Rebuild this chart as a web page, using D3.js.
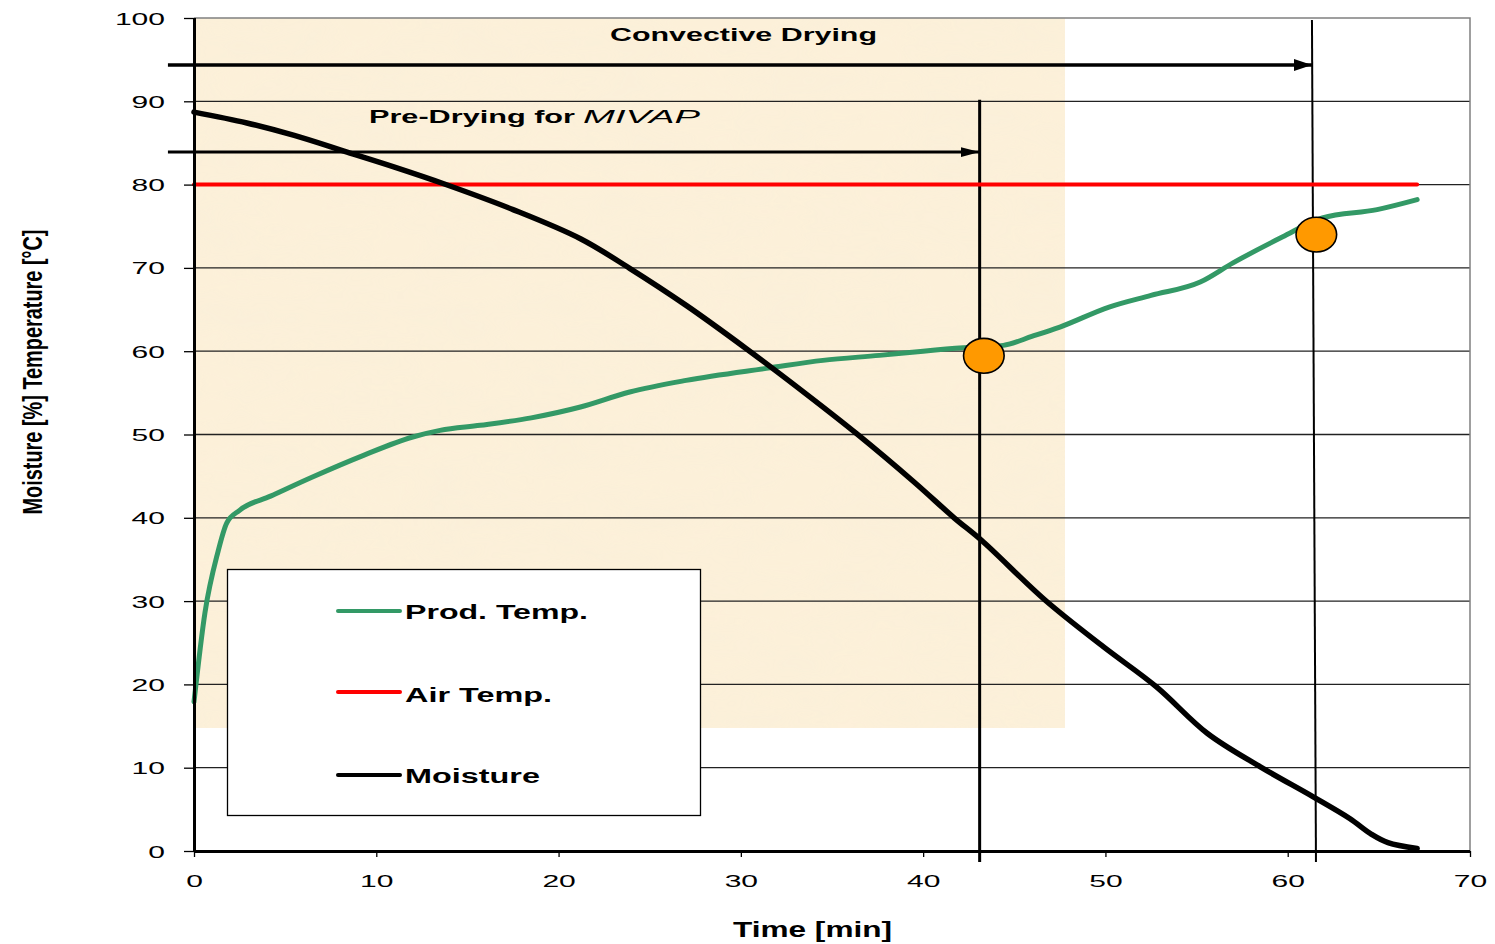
<!DOCTYPE html>
<html><head><meta charset="utf-8">
<script src="https://cdn.jsdelivr.net/npm/d3@7"></script>
<style>body{margin:0;background:#fff} svg{display:block}</style>
</head><body>
<svg id="chart" width="1495" height="944"></svg>
<script>
// ---------- data ----------
const xTickValues = [0, 10, 20, 30, 40, 50, 60, 70];
const yTickValues = [0, 10, 20, 30, 40, 50, 60, 70, 80, 90, 100];

const prodTime = [0, 0.6, 1.3, 1.8, 2.5, 4.2, 6.5, 9.3, 12, 13.5, 15.7, 18.5, 21.2, 23.9, 27, 31.6, 34.5, 37.6, 40, 42.2, 44.4, 46, 47.5, 50.2, 52.5, 55.2, 57, 59.7, 61.9, 64.9, 67.1];
const prodTemp = [17.9, 28.6, 35.8, 39.4, 40.9, 42.6, 44.9, 47.5, 49.7, 50.5, 51.1, 52, 53.3, 55.1, 56.5, 58, 58.9, 59.5, 60, 60.4, 60.7, 61.8, 62.9, 65.3, 66.7, 68.3, 70.6, 73.7, 76, 77, 78.2];

const airTime = [0, 67.1];
const airTemp = [80, 80];

const moistTime = [0, 2.9, 5.5, 8.4, 11, 13.7, 17.5, 21.2, 23.9, 27, 30.3, 33.5, 36.35, 39.5, 41.7, 43.2, 46.7, 49.9, 52.8, 55.6, 58.5, 61.4, 63.4, 64.6, 65.5, 67.1];
const moisture = [88.7, 87.4, 85.9, 83.9, 82.1, 80.1, 77.0, 73.5, 69.95, 65.5, 60.3, 55.0, 50.1, 44.3, 40.0, 37.3, 30.1, 24.5, 19.7, 14.1, 10.1, 6.5, 3.9, 2.0, 1.0, 0.3];

const markerTime = [43.33, 61.57];
const markerValue = [59.45, 74.0];

const seriesNames = ["Prod. Temp.", "Air Temp.", "Moisture"];
const seriesColors = ["#339966", "#ff0000", "#000000"];

const phaseNames = ["Convective Drying", "Pre-Drying for", "MIVAP"];
const phaseEndTime = [61.33, 43.1];      // arrow tips
const phaseArrowValue = [94.36, 83.9];   // arrow heights
const xTitle = "Time [min]";
const yTitle = "Moisture [%]   Temperature [°C]";

// ---------- layout ----------
const svg = d3.select("#chart");
const x = d3.scaleLinear().domain([0, 70]).range([194, 1470]);
const y = d3.scaleLinear().domain([0, 100]).range([851, 18]);

const defs = svg.append("defs");
const filt = defs.append("filter").attr("id", "paper").attr("x", 0).attr("y", 0).attr("width", 1).attr("height", 1);
filt.append("feTurbulence").attr("type", "fractalNoise").attr("baseFrequency", "0.012 0.03").attr("numOctaves", 3).attr("seed", 4).attr("result", "n");
filt.append("feColorMatrix").attr("in", "n").attr("type", "matrix")
  .attr("values", "0 0 0 0 0.93  0 0 0 0 0.86  0 0 0 0 0.70  0 0 0 0.5 -0.12").attr("result", "c");
filt.append("feComposite").attr("in", "c").attr("in2", "SourceGraphic").attr("operator", "in");

["big", "small"].forEach((id, i) => {
  const w = i === 0 ? 18 : 19, h = i === 0 ? 12 : 10;
  defs.append("marker").attr("id", id).attr("markerUnits", "userSpaceOnUse")
    .attr("viewBox", `0 0 ${w} ${h}`).attr("refX", w).attr("refY", h / 2)
    .attr("markerWidth", w).attr("markerHeight", h).attr("orient", "auto")
    .append("path").attr("d", `M0,0L${w},${h / 2}L0,${h}Z`).attr("fill", "#000");
});

// beige background panel
const bg = { t0: 0, t1: 47.78, v0: 14.77, v1: 100 };
svg.append("rect").attr("x", x(bg.t0)).attr("y", y(bg.v1))
  .attr("width", x(bg.t1) - x(bg.t0)).attr("height", y(bg.v0) - y(bg.v1))
  .attr("fill", "#fcf0d9");
svg.append("rect").attr("x", x(bg.t0)).attr("y", y(bg.v1))
  .attr("width", x(bg.t1) - x(bg.t0)).attr("height", y(bg.v0) - y(bg.v1))
  .attr("fill", "#fff").attr("filter", "url(#paper)").attr("opacity", 0.8);

// gridlines
svg.append("g").selectAll("line").data(yTickValues.filter(d => d > 0 && d < 100)).join("line")
  .attr("x1", x(0)).attr("x2", x(70)).attr("y1", d => y(d)).attr("y2", d => y(d))
  .attr("stroke", "#222").attr("stroke-width", 1.3);
// frame top/right
svg.append("path").attr("d", `M${x(0)},${y(100)}H${x(70)}V${y(0)}`)
  .attr("fill", "none").attr("stroke", "#808080").attr("stroke-width", 1.5);

// legend box
const legend = svg.append("g");
legend.append("rect").attr("x", 227.5).attr("y", 569.5).attr("width", 473).attr("height", 246)
  .attr("fill", "#fff").attr("stroke", "#000").attr("stroke-width", 1.3);
const legY = [611, 692, 775];
const legBase = [619, 702, 783];
const legW = [183, 147, 135];
seriesNames.forEach((n, i) => {
  legend.append("line").attr("x1", 338).attr("x2", 400).attr("y1", legY[i]).attr("y2", legY[i])
    .attr("stroke", seriesColors[i]).attr("stroke-width", 4).attr("stroke-linecap", "round");
  legend.append("text").attr("x", 405).attr("y", legBase[i]).text(n)
    .attr("font-family", "Liberation Sans, Arial, sans-serif").attr("font-weight", "bold")
    .attr("font-size", 19.5).attr("textLength", legW[i]).attr("lengthAdjust", "spacingAndGlyphs");
});

// vertical phase lines
const vLines = [
  { t0: 43.1, v0: 90.2, t1: 43.1, v1: -1.32, w: 3 },
  { t0: 61.33, v0: 99.76, t1: 61.55, v1: -1.32, w: 2 }
];
svg.append("g").selectAll("line").data(vLines).join("line")
  .attr("x1", d => x(d.t0)).attr("y1", d => y(d.v0)).attr("x2", d => x(d.t1)).attr("y2", d => y(d.v1))
  .attr("stroke", "#000").attr("stroke-width", d => d.w);

// series
const line = d3.line().x(d => x(d[0])).y(d => y(d[1])).curve(d3.curveMonotoneX);
const smoothLine = d3.line().x(d => x(d[0])).y(d => y(d[1])).curve(d3.curveCatmullRom.alpha(0.5));
svg.append("path").datum(d3.zip(airTime, airTemp)).attr("d", line)
  .attr("fill", "none").attr("stroke", seriesColors[1]).attr("stroke-width", 4).attr("stroke-linecap", "round");
svg.append("path").datum(d3.zip(prodTime, prodTemp)).attr("d", line)
  .attr("fill", "none").attr("stroke", seriesColors[0]).attr("stroke-width", 5).attr("stroke-linecap", "round");
svg.append("path").datum(d3.zip(moistTime, moisture)).attr("d", smoothLine)
  .attr("fill", "none").attr("stroke", seriesColors[2]).attr("stroke-width", 5.5).attr("stroke-linecap", "round");

// arrows
const arrowStart = -1.43;
phaseEndTime.forEach((t, i) => {
  svg.append("line").attr("x1", x(arrowStart)).attr("x2", x(t)).attr("y1", y(phaseArrowValue[i])).attr("y2", y(phaseArrowValue[i]))
    .attr("stroke", "#000").attr("stroke-width", i === 0 ? 3.3 : 3).attr("marker-end", `url(#${i === 0 ? "big" : "small"})`);
});

// annotation text
const ann = svg.append("g").attr("font-family", "Liberation Sans, Arial, sans-serif");
ann.append("text").attr("x", 610).attr("y", 40.5).text(phaseNames[0])
  .attr("font-weight", "bold").attr("font-size", 18.5).attr("textLength", 267).attr("lengthAdjust", "spacingAndGlyphs");
ann.append("text").attr("x", 369).attr("y", 123.3).text(phaseNames[1])
  .attr("font-weight", "bold").attr("font-size", 18.5).attr("textLength", 206).attr("lengthAdjust", "spacingAndGlyphs");
ann.append("text").attr("x", 583).attr("y", 123.3).text(phaseNames[2])
  .attr("font-style", "italic").attr("font-size", 18.5).attr("textLength", 117).attr("lengthAdjust", "spacingAndGlyphs");

// markers
svg.append("g").selectAll("ellipse").data(d3.zip(markerTime, markerValue)).join("ellipse")
  .attr("cx", d => x(d[0])).attr("cy", d => y(d[1])).attr("rx", 20.3).attr("ry", 17.4)
  .attr("fill", "#ff9900").attr("stroke", "#000").attr("stroke-width", 1.6);

// axes
const yAxis = svg.append("g").attr("transform", `translate(${x(0)},0)`)
  .call(d3.axisLeft(y).tickValues(yTickValues).tickSize(10).tickSizeOuter(0).tickPadding(0).tickFormat(d3.format("d")));
yAxis.select(".domain").attr("stroke-width", 3).attr("d", `M0.5,${y(100)}V${y(0)}`);
yAxis.selectAll(".tick line").attr("stroke-width", 1.3);
yAxis.selectAll(".tick text")
  .attr("x", -29).attr("dy", null).attr("y", 6)
  .attr("font-family", "Liberation Sans, Arial, sans-serif").attr("font-size", 17).attr("fill", "#000")
  .attr("textLength", d => String(d).length * 16.7).attr("lengthAdjust", "spacingAndGlyphs");

const xAxis = svg.append("g").attr("transform", `translate(0,${y(0)})`)
  .call(d3.axisBottom(x).tickValues(xTickValues).tickSize(6).tickSizeOuter(0).tickFormat(d3.format("d")));
xAxis.select(".domain").attr("stroke-width", 3).attr("d", `M${x(0)},0.5H${x(70)}`);
xAxis.selectAll(".tick line").attr("stroke-width", 1.3);
xAxis.selectAll(".tick text")
  .attr("y", 36).attr("dy", null)
  .attr("font-family", "Liberation Sans, Arial, sans-serif").attr("font-size", 17).attr("fill", "#000")
  .attr("textLength", d => String(d).length * 16.7).attr("lengthAdjust", "spacingAndGlyphs");

// axis titles
svg.append("text").attr("x", 812.5).attr("y", 937).attr("text-anchor", "middle").text(xTitle)
  .attr("font-family", "Liberation Sans Narrow, Arial Narrow, Liberation Sans, sans-serif").attr("font-weight", "bold")
  .attr("font-size", 22).attr("textLength", 159).attr("lengthAdjust", "spacingAndGlyphs");
svg.append("text").attr("transform", "translate(42,372) rotate(-90)").attr("text-anchor", "middle").text(yTitle)
  .attr("font-family", "Liberation Sans Narrow, Arial Narrow, Liberation Sans, sans-serif").attr("font-weight", "bold")
  .attr("font-size", 27).attr("textLength", 285).attr("lengthAdjust", "spacingAndGlyphs");
</script>
</body></html>
